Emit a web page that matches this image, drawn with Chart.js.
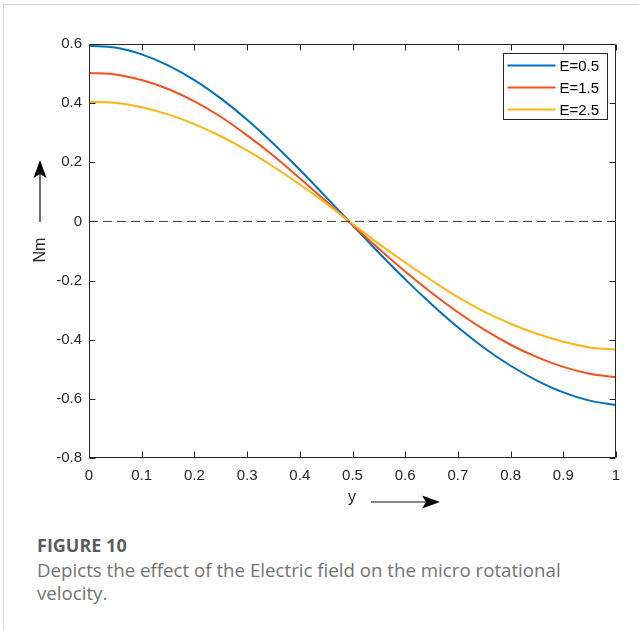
<!DOCTYPE html>
<html><head><meta charset="utf-8">
<script src="https://cdn.jsdelivr.net/npm/chart.js@4.4.0/dist/chart.umd.min.js"></script>
<style>
html,body{margin:0;padding:0;background:#fff;width:639px;height:630px;overflow:hidden;}
#card{position:absolute;left:3px;top:4px;width:700px;height:700px;border:1px solid #d9d9d9;box-sizing:border-box;}
#wrap{position:absolute;left:0;top:0;width:639px;height:520px;}
#cap{position:absolute;left:37px;top:534px;width:560px;font-family:'Open Sans',sans-serif;color:#737373;font-size:18.7px;line-height:23.5px;}
#cap b{color:#5c5c5c;display:block;font-weight:700;font-size:18px;}
</style></head>
<body>
<div id="card"></div>
<div id="wrap"><canvas id="c" width="639" height="520"></canvas></div>
<div id="cap"><b>FIGURE 10</b>Depicts the effect of the Electric field on the micro rotational velocity.</div>
<script>
// ---- data ----
const yPos = [0,0.05,0.1,0.15,0.2,0.25,0.3,0.35,0.4,0.45,0.5,0.55,0.6,0.65,0.7,0.75,0.8,0.85,0.9,0.95,1];
const seriesLabels = ['E=0.5','E=1.5','E=2.5'];
const nmE05 = [0.594,0.588,0.565,0.528,0.478,0.416,0.344,0.263,0.175,0.082,-0.012,-0.106,-0.196,-0.280,-0.358,-0.428,-0.488,-0.538,-0.578,-0.606,-0.621];
const nmE15 = [0.502,0.497,0.478,0.448,0.406,0.354,0.291,0.222,0.146,0.068,-0.012,-0.092,-0.169,-0.241,-0.307,-0.366,-0.417,-0.459,-0.492,-0.515,-0.527];
const nmE25 = [0.405,0.401,0.386,0.362,0.329,0.288,0.240,0.185,0.125,0.061,-0.008,-0.076,-0.139,-0.199,-0.256,-0.305,-0.346,-0.380,-0.407,-0.426,-0.434];
const zeroLine = [0,0];
const zeroLineX = [0,1];
const xTickVals = [0,0.1,0.2,0.3,0.4,0.5,0.6,0.7,0.8,0.9,1];
const xTickLabels = ['0','0.1','0.2','0.3','0.4','0.5','0.6','0.7','0.8','0.9','1'];
const yTickVals = [-0.8,-0.6,-0.4,-0.2,0,0.2,0.4,0.6];
const yTickLabels = ['-0.8','-0.6','-0.4','-0.2','0','0.2','0.4','0.6'];
const colors = ['#0072BD','#F4511E','#FDB515'];

const pts = arr => arr.map((v,i)=>({x:yPos[i],y:v}));
const FONT = "'Liberation Sans', Arial, sans-serif";
const TXT = '#262626';

const frame = {
  id:'frame',
  afterDraw(chart){
    const {ctx, chartArea:a, scales:{x,y}} = chart;
    ctx.save();
    ctx.strokeStyle = TXT; ctx.lineWidth = 1;
    const L = Math.round(a.left)+0.5, R = Math.round(a.right)-0.5, T = Math.round(a.top)+0.5, B = Math.round(a.bottom)-0.5;
    ctx.beginPath();
    ctx.rect(L, T, R-L, B-T);
    const tl = 6;
    xTickVals.forEach(v=>{
      const p = Math.round(x.getPixelForValue(v))+0.5;
      ctx.moveTo(p,B); ctx.lineTo(p,B-tl);
      ctx.moveTo(p,T); ctx.lineTo(p,T+tl);
    });
    yTickVals.forEach(v=>{
      const p = Math.round(y.getPixelForValue(v))+0.5;
      ctx.moveTo(L,p); ctx.lineTo(L+tl,p);
      ctx.moveTo(R,p); ctx.lineTo(R-tl,p);
    });
    ctx.stroke();

    // legend
    const bw = 104, bh = 66;
    const bx = Math.round(a.right - 113)+0.5, by = Math.round(a.top + 9)+0.5;
    ctx.fillStyle = '#fff';
    ctx.fillRect(bx, by, bw, bh);
    ctx.strokeStyle = TXT; ctx.lineWidth = 1;
    ctx.strokeRect(bx, by, bw, bh);
    ctx.font = '15px ' + FONT;
    ctx.textBaseline = 'middle'; ctx.textAlign = 'left';
    seriesLabels.forEach((lab,i)=>{
      const ry = by + 12 + i*22;
      ctx.strokeStyle = colors[i]; ctx.lineWidth = 2;
      ctx.beginPath(); ctx.moveTo(bx+4, ry); ctx.lineTo(bx+52, ry); ctx.stroke();
      ctx.fillStyle = '#000';
      ctx.fillText(lab, bx+56, ry+1);
    });

    // axis labels with arrows
    ctx.fillStyle = TXT;
    ctx.font = '16px ' + FONT;
    ctx.textAlign = 'center'; ctx.textBaseline = 'middle';
    ctx.fillText('y', 352, 498);
    ctx.save();
    ctx.translate(41, 250); ctx.rotate(-Math.PI/2);
    ctx.fillText('Nm', 0, 0);
    ctx.restore();

    ctx.strokeStyle = '#111'; ctx.lineWidth = 1.2;
    ctx.beginPath(); ctx.moveTo(371, 502); ctx.lineTo(428, 502); ctx.stroke();
    ctx.fillStyle = '#000';
    ctx.beginPath(); ctx.moveTo(440,502); ctx.lineTo(422,495.5); ctx.lineTo(426,502); ctx.lineTo(422,508.5); ctx.closePath(); ctx.fill();

    ctx.beginPath(); ctx.moveTo(40, 222); ctx.lineTo(40, 172); ctx.stroke();
    ctx.beginPath(); ctx.moveTo(40,160); ctx.lineTo(33.5,178); ctx.lineTo(40,174); ctx.lineTo(46.5,178); ctx.closePath(); ctx.fill();
    ctx.restore();
  }
};

const lineDS = (i, arr) => ({
  label: seriesLabels[i], data: pts(arr), borderColor: colors[i], backgroundColor: colors[i],
  borderWidth: 2, pointRadius: 0, cubicInterpolationMode: 'monotone', fill: false, order: 3-i
});

new Chart(document.getElementById('c'), {
  type: 'line',
  data: {
    datasets: [
      lineDS(0, nmE05), lineDS(1, nmE15), lineDS(2, nmE25),
      { label: 'zero', data: zeroLineX.map((v,i)=>({x:v,y:zeroLine[i]})), borderColor: '#3a3a3a', borderWidth: 1,
        borderDash: [9,5], pointRadius: 0, fill:false, order: 0 }
    ]
  },
  options: {
    responsive: false, animation: false,
    layout: { padding: { left: 0, right: 23, top: 44, bottom: 0 } },
    plugins: { legend: { display: false }, tooltip: { enabled: false } },
    scales: {
      x: {
        type: 'linear', min: 0, max: 1,
        grid: { display: false, drawTicks: false }, border: { display: false },
        afterBuildTicks: s => { s.ticks = xTickVals.map(v=>({value:v})); },
        afterFit: s => { s.height = 62; },
        ticks: { padding: 9, color: TXT, font: { family: FONT, size: 15 }, maxRotation: 0, autoSkip: false,
          callback: (v) => xTickLabels[xTickVals.findIndex(t=>Math.abs(t-v)<1e-9)] }
      },
      y: {
        type: 'linear', min: -0.8, max: 0.6,
        grid: { display: false, drawTicks: false }, border: { display: false },
        afterBuildTicks: s => { s.ticks = yTickVals.map(v=>({value:v})); },
        afterFit: s => { s.width = 89; },
        ticks: { padding: 7, color: TXT, font: { family: FONT, size: 15 }, autoSkip: false,
          callback: (v) => yTickLabels[yTickVals.findIndex(t=>Math.abs(t-v)<1e-9)] }
      }
    }
  },
  plugins: [frame]
});
</script>
</body></html>
